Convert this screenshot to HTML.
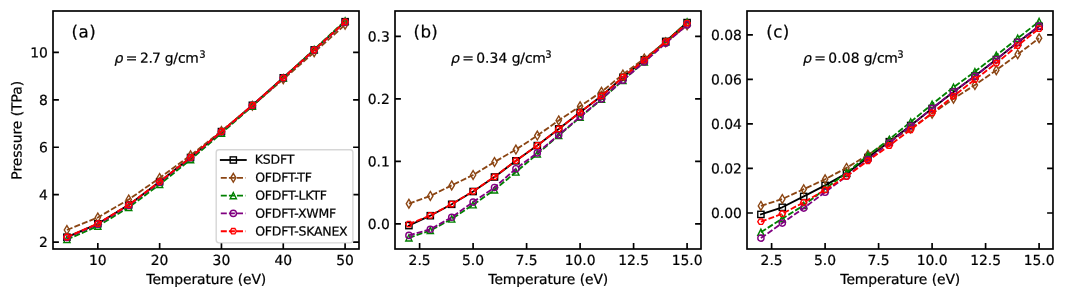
<!DOCTYPE html>
<html lang="en"><head><meta charset="utf-8"><title>Pressure vs temperature</title>
<style>
html,body{margin:0;padding:0;background:#fff;}
svg{display:block;will-change:transform;}
text{font-family:"DejaVu Sans","Liberation Sans",sans-serif;fill:#000;stroke:#000;stroke-width:0.22px;text-rendering:geometricPrecision;}
.t{font-size:13.889px}
.lab{font-size:16.667px}
.leg{font-size:12.500px}
.it{font-style:oblique}
</style></head><body>
<svg width="1065" height="298" viewBox="0 0 1065 298">
<rect width="1065" height="298" fill="#fff"/>
<g id="panel-a">
<clipPath id="cp0"><rect x="53" y="11" width="306" height="238"/></clipPath>
<g clip-path="url(#cp0)">
<polyline points="66.91,237.2 97.82,223.8 128.73,204.9 159.64,181.8 190.55,157.5 221.45,131.6 252.36,105.3 283.27,77.8 314.18,49.9 345.09,21.7" fill="none" stroke="#000000" stroke-width="1.85" stroke-linejoin="round" stroke-linecap="square"/>
<rect x="63.78" y="234.07" width="6.25" height="6.25" fill="none" stroke="#000000" stroke-width="1.39" stroke-linejoin="miter"/>
<rect x="94.69" y="220.68" width="6.25" height="6.25" fill="none" stroke="#000000" stroke-width="1.39" stroke-linejoin="miter"/>
<rect x="125.6" y="201.78" width="6.25" height="6.25" fill="none" stroke="#000000" stroke-width="1.39" stroke-linejoin="miter"/>
<rect x="156.51" y="178.68" width="6.25" height="6.25" fill="none" stroke="#000000" stroke-width="1.39" stroke-linejoin="miter"/>
<rect x="187.42" y="154.38" width="6.25" height="6.25" fill="none" stroke="#000000" stroke-width="1.39" stroke-linejoin="miter"/>
<rect x="218.33" y="128.47" width="6.25" height="6.25" fill="none" stroke="#000000" stroke-width="1.39" stroke-linejoin="miter"/>
<rect x="249.24" y="102.17" width="6.25" height="6.25" fill="none" stroke="#000000" stroke-width="1.39" stroke-linejoin="miter"/>
<rect x="280.15" y="74.67" width="6.25" height="6.25" fill="none" stroke="#000000" stroke-width="1.39" stroke-linejoin="miter"/>
<rect x="311.06" y="46.77" width="6.25" height="6.25" fill="none" stroke="#000000" stroke-width="1.39" stroke-linejoin="miter"/>
<rect x="341.97" y="18.57" width="6.25" height="6.25" fill="none" stroke="#000000" stroke-width="1.39" stroke-linejoin="miter"/>
<polyline points="66.91,230 97.82,217.5 128.73,199.5 159.64,178 190.55,155.3 221.45,131 252.36,105.7 283.27,79.3 314.18,52.3 345.09,24.8" fill="none" stroke="#8B4513" stroke-width="1.85" stroke-linejoin="round" stroke-linecap="butt" stroke-dasharray="6.0 2.1"/>
<path d="M66.91 225.58L69.56 230L66.91 234.42L64.26 230Z" fill="none" stroke="#8B4513" stroke-width="1.39" stroke-linejoin="miter"/>
<path d="M97.82 213.08L100.47 217.5L97.82 221.92L95.17 217.5Z" fill="none" stroke="#8B4513" stroke-width="1.39" stroke-linejoin="miter"/>
<path d="M128.73 195.08L131.38 199.5L128.73 203.92L126.08 199.5Z" fill="none" stroke="#8B4513" stroke-width="1.39" stroke-linejoin="miter"/>
<path d="M159.64 173.58L162.29 178L159.64 182.42L156.98 178Z" fill="none" stroke="#8B4513" stroke-width="1.39" stroke-linejoin="miter"/>
<path d="M190.55 150.88L193.2 155.3L190.55 159.72L187.89 155.3Z" fill="none" stroke="#8B4513" stroke-width="1.39" stroke-linejoin="miter"/>
<path d="M221.45 126.58L224.11 131L221.45 135.42L218.8 131Z" fill="none" stroke="#8B4513" stroke-width="1.39" stroke-linejoin="miter"/>
<path d="M252.36 101.28L255.02 105.7L252.36 110.12L249.71 105.7Z" fill="none" stroke="#8B4513" stroke-width="1.39" stroke-linejoin="miter"/>
<path d="M283.27 74.88L285.92 79.3L283.27 83.72L280.62 79.3Z" fill="none" stroke="#8B4513" stroke-width="1.39" stroke-linejoin="miter"/>
<path d="M314.18 47.88L316.83 52.3L314.18 56.72L311.53 52.3Z" fill="none" stroke="#8B4513" stroke-width="1.39" stroke-linejoin="miter"/>
<path d="M345.09 20.38L347.74 24.8L345.09 29.22L342.44 24.8Z" fill="none" stroke="#8B4513" stroke-width="1.39" stroke-linejoin="miter"/>
<polyline points="66.91,239.5 97.82,226.1 128.73,207.4 159.64,184.4 190.55,159.6 221.45,133.2 252.36,106.2 283.27,78 314.18,49.4 345.09,20.8" fill="none" stroke="#008000" stroke-width="1.85" stroke-linejoin="round" stroke-linecap="butt" stroke-dasharray="6.0 2.1"/>
<path d="M66.91 236.38L70.03 242.62L63.78 242.62Z" fill="none" stroke="#008000" stroke-width="1.39" stroke-linejoin="miter"/>
<path d="M97.82 222.97L100.94 229.22L94.69 229.22Z" fill="none" stroke="#008000" stroke-width="1.39" stroke-linejoin="miter"/>
<path d="M128.73 204.28L131.85 210.53L125.6 210.53Z" fill="none" stroke="#008000" stroke-width="1.39" stroke-linejoin="miter"/>
<path d="M159.64 181.28L162.76 187.53L156.51 187.53Z" fill="none" stroke="#008000" stroke-width="1.39" stroke-linejoin="miter"/>
<path d="M190.55 156.47L193.67 162.72L187.42 162.72Z" fill="none" stroke="#008000" stroke-width="1.39" stroke-linejoin="miter"/>
<path d="M221.45 130.07L224.58 136.32L218.33 136.32Z" fill="none" stroke="#008000" stroke-width="1.39" stroke-linejoin="miter"/>
<path d="M252.36 103.08L255.49 109.33L249.24 109.33Z" fill="none" stroke="#008000" stroke-width="1.39" stroke-linejoin="miter"/>
<path d="M283.27 74.88L286.4 81.12L280.15 81.12Z" fill="none" stroke="#008000" stroke-width="1.39" stroke-linejoin="miter"/>
<path d="M314.18 46.27L317.31 52.52L311.06 52.52Z" fill="none" stroke="#008000" stroke-width="1.39" stroke-linejoin="miter"/>
<path d="M345.09 17.68L348.22 23.93L341.97 23.93Z" fill="none" stroke="#008000" stroke-width="1.39" stroke-linejoin="miter"/>
<polyline points="66.91,237.6 97.82,224.3 128.73,205.4 159.64,182.2 190.55,157.8 221.45,131.8 252.36,105.5 283.27,78 314.18,50.2 345.09,22.2" fill="none" stroke="#800080" stroke-width="1.85" stroke-linejoin="round" stroke-linecap="butt" stroke-dasharray="6.0 2.1"/>
<circle cx="66.91" cy="237.6" r="3.12" fill="none" stroke="#800080" stroke-width="1.39" stroke-linejoin="miter"/>
<circle cx="97.82" cy="224.3" r="3.12" fill="none" stroke="#800080" stroke-width="1.39" stroke-linejoin="miter"/>
<circle cx="128.73" cy="205.4" r="3.12" fill="none" stroke="#800080" stroke-width="1.39" stroke-linejoin="miter"/>
<circle cx="159.64" cy="182.2" r="3.12" fill="none" stroke="#800080" stroke-width="1.39" stroke-linejoin="miter"/>
<circle cx="190.55" cy="157.8" r="3.12" fill="none" stroke="#800080" stroke-width="1.39" stroke-linejoin="miter"/>
<circle cx="221.45" cy="131.8" r="3.12" fill="none" stroke="#800080" stroke-width="1.39" stroke-linejoin="miter"/>
<circle cx="252.36" cy="105.5" r="3.12" fill="none" stroke="#800080" stroke-width="1.39" stroke-linejoin="miter"/>
<circle cx="283.27" cy="78" r="3.12" fill="none" stroke="#800080" stroke-width="1.39" stroke-linejoin="miter"/>
<circle cx="314.18" cy="50.2" r="3.12" fill="none" stroke="#800080" stroke-width="1.39" stroke-linejoin="miter"/>
<circle cx="345.09" cy="22.2" r="3.12" fill="none" stroke="#800080" stroke-width="1.39" stroke-linejoin="miter"/>
<polyline points="66.91,237 97.82,223.6 128.73,204.8 159.64,181.7 190.55,157.4 221.45,131.5 252.36,105.3 283.27,77.85 314.18,50 345.09,21.9" fill="none" stroke="#ff0000" stroke-width="1.85" stroke-linejoin="round" stroke-linecap="butt" stroke-dasharray="6.0 2.1"/>
<path d="M70.03 237L68.47 234.29L65.35 234.29L63.78 237L65.35 239.71L68.47 239.71Z" fill="none" stroke="#ff0000" stroke-width="1.39" stroke-linejoin="miter"/>
<path d="M100.94 223.6L99.38 220.89L96.26 220.89L94.69 223.6L96.26 226.31L99.38 226.31Z" fill="none" stroke="#ff0000" stroke-width="1.39" stroke-linejoin="miter"/>
<path d="M131.85 204.8L130.29 202.09L127.16 202.09L125.6 204.8L127.16 207.51L130.29 207.51Z" fill="none" stroke="#ff0000" stroke-width="1.39" stroke-linejoin="miter"/>
<path d="M162.76 181.7L161.2 178.99L158.07 178.99L156.51 181.7L158.07 184.41L161.2 184.41Z" fill="none" stroke="#ff0000" stroke-width="1.39" stroke-linejoin="miter"/>
<path d="M193.67 157.4L192.11 154.69L188.98 154.69L187.42 157.4L188.98 160.11L192.11 160.11Z" fill="none" stroke="#ff0000" stroke-width="1.39" stroke-linejoin="miter"/>
<path d="M224.58 131.5L223.02 128.79L219.89 128.79L218.33 131.5L219.89 134.21L223.02 134.21Z" fill="none" stroke="#ff0000" stroke-width="1.39" stroke-linejoin="miter"/>
<path d="M255.49 105.3L253.93 102.59L250.8 102.59L249.24 105.3L250.8 108.01L253.93 108.01Z" fill="none" stroke="#ff0000" stroke-width="1.39" stroke-linejoin="miter"/>
<path d="M286.4 77.85L284.84 75.14L281.71 75.14L280.15 77.85L281.71 80.56L284.84 80.56Z" fill="none" stroke="#ff0000" stroke-width="1.39" stroke-linejoin="miter"/>
<path d="M317.31 50L315.74 47.29L312.62 47.29L311.06 50L312.62 52.71L315.74 52.71Z" fill="none" stroke="#ff0000" stroke-width="1.39" stroke-linejoin="miter"/>
<path d="M348.22 21.9L346.65 19.19L343.53 19.19L341.97 21.9L343.53 24.61L346.65 24.61Z" fill="none" stroke="#ff0000" stroke-width="1.39" stroke-linejoin="miter"/>
</g>
<path d="M97.82 249V243.1M159.64 249V243.1M221.45 249V243.1M283.27 249V243.1M345.09 249V243.1M53 242.05H58.9M359 242.05H353.1M53 194.65H58.9M359 194.65H353.1M53 147.25H58.9M359 147.25H353.1M53 99.85H58.9M359 99.85H353.1M53 52.45H58.9M359 52.45H353.1" stroke="#000" stroke-width="1.67" fill="none"/>
<rect x="53" y="11" width="306" height="238" fill="none" stroke="#000" stroke-width="1.67" stroke-linejoin="miter"/>
<text class="t" x="97.82" y="265.0" transform="rotate(0.04 97.82 265.0)" text-anchor="middle">10</text>
<text class="t" x="159.64" y="265.0" transform="rotate(0.04 159.64 265.0)" text-anchor="middle">20</text>
<text class="t" x="221.45" y="265.0" transform="rotate(0.04 221.45 265.0)" text-anchor="middle">30</text>
<text class="t" x="283.27" y="265.0" transform="rotate(0.04 283.27 265.0)" text-anchor="middle">40</text>
<text class="t" x="345.09" y="265.0" transform="rotate(0.04 345.09 265.0)" text-anchor="middle">50</text>
<text class="t" x="47.8" y="247.13" transform="rotate(0.04 47.8 247.13)" text-anchor="end">2</text>
<text class="t" x="47.8" y="199.73" transform="rotate(0.04 47.8 199.73)" text-anchor="end">4</text>
<text class="t" x="47.8" y="152.33" transform="rotate(0.04 47.8 152.33)" text-anchor="end">6</text>
<text class="t" x="47.8" y="104.93" transform="rotate(0.04 47.8 104.93)" text-anchor="end">8</text>
<text class="t" x="47.8" y="57.53" transform="rotate(0.04 47.8 57.53)" text-anchor="end">10</text>
<text x="146.37" y="284.00" transform="rotate(0.04 146.37 284.00)" font-size="13.889" letter-spacing="-0.086">Temperature (eV)</text>
<text x="71.58" y="37.60" transform="rotate(0.04 71.58 37.60)" font-size="16.667" letter-spacing="0.509">(a)</text>
<text class="t" transform="rotate(0.04 114.49 62.80)"><tspan x="114.49" y="62.80" font-size="13.889" font-style="oblique">ρ </tspan><tspan x="125.74" y="62.80" font-size="13.889">= </tspan><tspan x="140.04 148.44 151.99" y="62.80" font-size="13.889">2.7 </tspan><tspan x="164.74" y="62.80" font-size="13.889" letter-spacing="-0.169">g/cm</tspan><tspan x="199.25" y="57.65" font-size="10.000">3</tspan></text>
</g>
<g id="panel-b">
<clipPath id="cp1"><rect x="395" y="11" width="306" height="238"/></clipPath>
<g clip-path="url(#cp1)">
<polyline points="408.91,225.6 430.31,215.7 451.71,204.3 473.1,191.5 494.5,177 515.9,160.8 537.3,145.6 558.7,128.9 580.1,112.3 601.5,96 622.9,77.3 644.29,59.8 665.69,41.4 687.09,22.6" fill="none" stroke="#000000" stroke-width="1.85" stroke-linejoin="round" stroke-linecap="square"/>
<rect x="405.78" y="222.47" width="6.25" height="6.25" fill="none" stroke="#000000" stroke-width="1.39" stroke-linejoin="miter"/>
<rect x="427.18" y="212.57" width="6.25" height="6.25" fill="none" stroke="#000000" stroke-width="1.39" stroke-linejoin="miter"/>
<rect x="448.58" y="201.18" width="6.25" height="6.25" fill="none" stroke="#000000" stroke-width="1.39" stroke-linejoin="miter"/>
<rect x="469.98" y="188.38" width="6.25" height="6.25" fill="none" stroke="#000000" stroke-width="1.39" stroke-linejoin="miter"/>
<rect x="491.38" y="173.88" width="6.25" height="6.25" fill="none" stroke="#000000" stroke-width="1.39" stroke-linejoin="miter"/>
<rect x="512.78" y="157.68" width="6.25" height="6.25" fill="none" stroke="#000000" stroke-width="1.39" stroke-linejoin="miter"/>
<rect x="534.18" y="142.47" width="6.25" height="6.25" fill="none" stroke="#000000" stroke-width="1.39" stroke-linejoin="miter"/>
<rect x="555.57" y="125.78" width="6.25" height="6.25" fill="none" stroke="#000000" stroke-width="1.39" stroke-linejoin="miter"/>
<rect x="576.97" y="109.17" width="6.25" height="6.25" fill="none" stroke="#000000" stroke-width="1.39" stroke-linejoin="miter"/>
<rect x="598.37" y="92.88" width="6.25" height="6.25" fill="none" stroke="#000000" stroke-width="1.39" stroke-linejoin="miter"/>
<rect x="619.77" y="74.17" width="6.25" height="6.25" fill="none" stroke="#000000" stroke-width="1.39" stroke-linejoin="miter"/>
<rect x="641.17" y="56.67" width="6.25" height="6.25" fill="none" stroke="#000000" stroke-width="1.39" stroke-linejoin="miter"/>
<rect x="662.57" y="38.27" width="6.25" height="6.25" fill="none" stroke="#000000" stroke-width="1.39" stroke-linejoin="miter"/>
<rect x="683.97" y="19.48" width="6.25" height="6.25" fill="none" stroke="#000000" stroke-width="1.39" stroke-linejoin="miter"/>
<polyline points="408.91,203.7 430.31,195.9 451.71,185.4 473.1,175 494.5,162 515.9,149.6 537.3,135.6 558.7,120.4 580.1,106.2 601.5,91.8 622.9,74.5 644.29,58.5 665.69,42.3 687.09,25.3" fill="none" stroke="#8B4513" stroke-width="1.85" stroke-linejoin="round" stroke-linecap="butt" stroke-dasharray="6.0 2.1"/>
<path d="M408.91 199.28L411.56 203.7L408.91 208.12L406.26 203.7Z" fill="none" stroke="#8B4513" stroke-width="1.39" stroke-linejoin="miter"/>
<path d="M430.31 191.48L432.96 195.9L430.31 200.32L427.66 195.9Z" fill="none" stroke="#8B4513" stroke-width="1.39" stroke-linejoin="miter"/>
<path d="M451.71 180.98L454.36 185.4L451.71 189.82L449.05 185.4Z" fill="none" stroke="#8B4513" stroke-width="1.39" stroke-linejoin="miter"/>
<path d="M473.1 170.58L475.76 175L473.1 179.42L470.45 175Z" fill="none" stroke="#8B4513" stroke-width="1.39" stroke-linejoin="miter"/>
<path d="M494.5 157.58L497.16 162L494.5 166.42L491.85 162Z" fill="none" stroke="#8B4513" stroke-width="1.39" stroke-linejoin="miter"/>
<path d="M515.9 145.18L518.55 149.6L515.9 154.02L513.25 149.6Z" fill="none" stroke="#8B4513" stroke-width="1.39" stroke-linejoin="miter"/>
<path d="M537.3 131.18L539.95 135.6L537.3 140.02L534.65 135.6Z" fill="none" stroke="#8B4513" stroke-width="1.39" stroke-linejoin="miter"/>
<path d="M558.7 115.98L561.35 120.4L558.7 124.82L556.05 120.4Z" fill="none" stroke="#8B4513" stroke-width="1.39" stroke-linejoin="miter"/>
<path d="M580.1 101.78L582.75 106.2L580.1 110.62L577.45 106.2Z" fill="none" stroke="#8B4513" stroke-width="1.39" stroke-linejoin="miter"/>
<path d="M601.5 87.38L604.15 91.8L601.5 96.22L598.84 91.8Z" fill="none" stroke="#8B4513" stroke-width="1.39" stroke-linejoin="miter"/>
<path d="M622.9 70.08L625.55 74.5L622.9 78.92L620.24 74.5Z" fill="none" stroke="#8B4513" stroke-width="1.39" stroke-linejoin="miter"/>
<path d="M644.29 54.08L646.95 58.5L644.29 62.92L641.64 58.5Z" fill="none" stroke="#8B4513" stroke-width="1.39" stroke-linejoin="miter"/>
<path d="M665.69 37.88L668.34 42.3L665.69 46.72L663.04 42.3Z" fill="none" stroke="#8B4513" stroke-width="1.39" stroke-linejoin="miter"/>
<path d="M687.09 20.88L689.74 25.3L687.09 29.72L684.44 25.3Z" fill="none" stroke="#8B4513" stroke-width="1.39" stroke-linejoin="miter"/>
<polyline points="408.91,237.8 430.31,230.5 451.71,219 473.1,204.7 494.5,189.9 515.9,172 537.3,154 558.7,135.5 580.1,117.3 601.5,99.3 622.9,80.4 644.29,61.9 665.69,42 687.09,22" fill="none" stroke="#008000" stroke-width="1.85" stroke-linejoin="round" stroke-linecap="butt" stroke-dasharray="6.0 2.1"/>
<path d="M408.91 234.68L412.03 240.93L405.78 240.93Z" fill="none" stroke="#008000" stroke-width="1.39" stroke-linejoin="miter"/>
<path d="M430.31 227.38L433.43 233.62L427.18 233.62Z" fill="none" stroke="#008000" stroke-width="1.39" stroke-linejoin="miter"/>
<path d="M451.71 215.88L454.83 222.12L448.58 222.12Z" fill="none" stroke="#008000" stroke-width="1.39" stroke-linejoin="miter"/>
<path d="M473.1 201.57L476.23 207.82L469.98 207.82Z" fill="none" stroke="#008000" stroke-width="1.39" stroke-linejoin="miter"/>
<path d="M494.5 186.78L497.63 193.03L491.38 193.03Z" fill="none" stroke="#008000" stroke-width="1.39" stroke-linejoin="miter"/>
<path d="M515.9 168.88L519.03 175.12L512.78 175.12Z" fill="none" stroke="#008000" stroke-width="1.39" stroke-linejoin="miter"/>
<path d="M537.3 150.88L540.43 157.12L534.18 157.12Z" fill="none" stroke="#008000" stroke-width="1.39" stroke-linejoin="miter"/>
<path d="M558.7 132.38L561.82 138.62L555.57 138.62Z" fill="none" stroke="#008000" stroke-width="1.39" stroke-linejoin="miter"/>
<path d="M580.1 114.17L583.22 120.42L576.97 120.42Z" fill="none" stroke="#008000" stroke-width="1.39" stroke-linejoin="miter"/>
<path d="M601.5 96.17L604.62 102.42L598.37 102.42Z" fill="none" stroke="#008000" stroke-width="1.39" stroke-linejoin="miter"/>
<path d="M622.9 77.28L626.02 83.53L619.77 83.53Z" fill="none" stroke="#008000" stroke-width="1.39" stroke-linejoin="miter"/>
<path d="M644.29 58.77L647.42 65.03L641.17 65.03Z" fill="none" stroke="#008000" stroke-width="1.39" stroke-linejoin="miter"/>
<path d="M665.69 38.88L668.82 45.12L662.57 45.12Z" fill="none" stroke="#008000" stroke-width="1.39" stroke-linejoin="miter"/>
<path d="M687.09 18.88L690.22 25.12L683.97 25.12Z" fill="none" stroke="#008000" stroke-width="1.39" stroke-linejoin="miter"/>
<polyline points="408.91,235.4 430.31,229.3 451.71,217.3 473.1,202.1 494.5,187.5 515.9,168.7 537.3,152.9 558.7,134.9 580.1,116.8 601.5,98.9 622.9,80.2 644.29,62 665.69,43.3 687.09,24.9" fill="none" stroke="#800080" stroke-width="1.85" stroke-linejoin="round" stroke-linecap="butt" stroke-dasharray="6.0 2.1"/>
<circle cx="408.91" cy="235.4" r="3.12" fill="none" stroke="#800080" stroke-width="1.39" stroke-linejoin="miter"/>
<circle cx="430.31" cy="229.3" r="3.12" fill="none" stroke="#800080" stroke-width="1.39" stroke-linejoin="miter"/>
<circle cx="451.71" cy="217.3" r="3.12" fill="none" stroke="#800080" stroke-width="1.39" stroke-linejoin="miter"/>
<circle cx="473.1" cy="202.1" r="3.12" fill="none" stroke="#800080" stroke-width="1.39" stroke-linejoin="miter"/>
<circle cx="494.5" cy="187.5" r="3.12" fill="none" stroke="#800080" stroke-width="1.39" stroke-linejoin="miter"/>
<circle cx="515.9" cy="168.7" r="3.12" fill="none" stroke="#800080" stroke-width="1.39" stroke-linejoin="miter"/>
<circle cx="537.3" cy="152.9" r="3.12" fill="none" stroke="#800080" stroke-width="1.39" stroke-linejoin="miter"/>
<circle cx="558.7" cy="134.9" r="3.12" fill="none" stroke="#800080" stroke-width="1.39" stroke-linejoin="miter"/>
<circle cx="580.1" cy="116.8" r="3.12" fill="none" stroke="#800080" stroke-width="1.39" stroke-linejoin="miter"/>
<circle cx="601.5" cy="98.9" r="3.12" fill="none" stroke="#800080" stroke-width="1.39" stroke-linejoin="miter"/>
<circle cx="622.9" cy="80.2" r="3.12" fill="none" stroke="#800080" stroke-width="1.39" stroke-linejoin="miter"/>
<circle cx="644.29" cy="62" r="3.12" fill="none" stroke="#800080" stroke-width="1.39" stroke-linejoin="miter"/>
<circle cx="665.69" cy="43.3" r="3.12" fill="none" stroke="#800080" stroke-width="1.39" stroke-linejoin="miter"/>
<circle cx="687.09" cy="24.9" r="3.12" fill="none" stroke="#800080" stroke-width="1.39" stroke-linejoin="miter"/>
<polyline points="408.91,224.1 430.31,215.4 451.71,204.1 473.1,191.3 494.5,176.8 515.9,160.7 537.3,145.5 558.7,128.9 580.1,112.3 601.5,95.9 622.9,77.2 644.29,60.2 665.69,41.6 687.09,23.1" fill="none" stroke="#ff0000" stroke-width="1.85" stroke-linejoin="round" stroke-linecap="butt" stroke-dasharray="6.0 2.1"/>
<path d="M412.03 224.1L410.47 221.39L407.35 221.39L405.78 224.1L407.35 226.81L410.47 226.81Z" fill="none" stroke="#ff0000" stroke-width="1.39" stroke-linejoin="miter"/>
<path d="M433.43 215.4L431.87 212.69L428.75 212.69L427.18 215.4L428.75 218.11L431.87 218.11Z" fill="none" stroke="#ff0000" stroke-width="1.39" stroke-linejoin="miter"/>
<path d="M454.83 204.1L453.27 201.39L450.14 201.39L448.58 204.1L450.14 206.81L453.27 206.81Z" fill="none" stroke="#ff0000" stroke-width="1.39" stroke-linejoin="miter"/>
<path d="M476.23 191.3L474.67 188.59L471.54 188.59L469.98 191.3L471.54 194.01L474.67 194.01Z" fill="none" stroke="#ff0000" stroke-width="1.39" stroke-linejoin="miter"/>
<path d="M497.63 176.8L496.07 174.09L492.94 174.09L491.38 176.8L492.94 179.51L496.07 179.51Z" fill="none" stroke="#ff0000" stroke-width="1.39" stroke-linejoin="miter"/>
<path d="M519.03 160.7L517.46 157.99L514.34 157.99L512.78 160.7L514.34 163.41L517.46 163.41Z" fill="none" stroke="#ff0000" stroke-width="1.39" stroke-linejoin="miter"/>
<path d="M540.43 145.5L538.86 142.79L535.74 142.79L534.18 145.5L535.74 148.21L538.86 148.21Z" fill="none" stroke="#ff0000" stroke-width="1.39" stroke-linejoin="miter"/>
<path d="M561.82 128.9L560.26 126.19L557.14 126.19L555.57 128.9L557.14 131.61L560.26 131.61Z" fill="none" stroke="#ff0000" stroke-width="1.39" stroke-linejoin="miter"/>
<path d="M583.22 112.3L581.66 109.59L578.54 109.59L576.97 112.3L578.54 115.01L581.66 115.01Z" fill="none" stroke="#ff0000" stroke-width="1.39" stroke-linejoin="miter"/>
<path d="M604.62 95.9L603.06 93.19L599.93 93.19L598.37 95.9L599.93 98.61L603.06 98.61Z" fill="none" stroke="#ff0000" stroke-width="1.39" stroke-linejoin="miter"/>
<path d="M626.02 77.2L624.46 74.49L621.33 74.49L619.77 77.2L621.33 79.91L624.46 79.91Z" fill="none" stroke="#ff0000" stroke-width="1.39" stroke-linejoin="miter"/>
<path d="M647.42 60.2L645.86 57.49L642.73 57.49L641.17 60.2L642.73 62.91L645.86 62.91Z" fill="none" stroke="#ff0000" stroke-width="1.39" stroke-linejoin="miter"/>
<path d="M668.82 41.6L667.25 38.89L664.13 38.89L662.57 41.6L664.13 44.31L667.25 44.31Z" fill="none" stroke="#ff0000" stroke-width="1.39" stroke-linejoin="miter"/>
<path d="M690.22 23.1L688.65 20.39L685.53 20.39L683.97 23.1L685.53 25.81L688.65 25.81Z" fill="none" stroke="#ff0000" stroke-width="1.39" stroke-linejoin="miter"/>
</g>
<path d="M419.61 249V243.1M473.1 249V243.1M526.6 249V243.1M580.1 249V243.1M633.59 249V243.1M687.09 249V243.1M395 223.9H400.9M701 223.9H695.1M395 161.4H400.9M701 161.4H695.1M395 98.9H400.9M701 98.9H695.1M395 36.4H400.9M701 36.4H695.1" stroke="#000" stroke-width="1.67" fill="none"/>
<rect x="395" y="11" width="306" height="238" fill="none" stroke="#000" stroke-width="1.67" stroke-linejoin="miter"/>
<text class="t" x="419.61" y="265.0" transform="rotate(0.04 419.61 265.0)" text-anchor="middle">2.5</text>
<text class="t" x="473.1" y="265.0" transform="rotate(0.04 473.1 265.0)" text-anchor="middle">5.0</text>
<text class="t" x="526.6" y="265.0" transform="rotate(0.04 526.6 265.0)" text-anchor="middle">7.5</text>
<text class="t" x="580.1" y="265.0" transform="rotate(0.04 580.1 265.0)" text-anchor="middle">10.0</text>
<text class="t" x="633.59" y="265.0" transform="rotate(0.04 633.59 265.0)" text-anchor="middle">12.5</text>
<text class="t" x="687.09" y="265.0" transform="rotate(0.04 687.09 265.0)" text-anchor="middle">15.0</text>
<text class="t" x="389.8" y="228.98" transform="rotate(0.04 389.8 228.98)" text-anchor="end">0.0</text>
<text class="t" x="389.8" y="166.48" transform="rotate(0.04 389.8 166.48)" text-anchor="end">0.1</text>
<text class="t" x="389.8" y="103.98" transform="rotate(0.04 389.8 103.98)" text-anchor="end">0.2</text>
<text class="t" x="389.8" y="41.48" transform="rotate(0.04 389.8 41.48)" text-anchor="end">0.3</text>
<text x="488.37" y="284.00" transform="rotate(0.04 488.37 284.00)" font-size="13.889" letter-spacing="-0.086">Temperature (eV)</text>
<text x="413.58" y="37.60" transform="rotate(0.04 413.58 37.60)" font-size="16.667" letter-spacing="0.329">(b)</text>
<text class="t" transform="rotate(0.04 450.99 62.80)"><tspan x="450.99" y="62.80" font-size="13.889" font-style="oblique">ρ </tspan><tspan x="462.34" y="62.80" font-size="13.889">= </tspan><tspan x="476.20" y="62.80" font-size="13.889" letter-spacing="0.081">0.34 </tspan><tspan x="511.74" y="62.80" font-size="13.889" letter-spacing="-0.169">g/cm</tspan><tspan x="545.35" y="57.65" font-size="10.000">3</tspan></text>
</g>
<g id="panel-c">
<clipPath id="cp2"><rect x="747" y="11" width="306" height="238"/></clipPath>
<g clip-path="url(#cp2)">
<polyline points="760.91,214.4 782.31,207.3 803.71,196.4 825.1,185.4 846.5,173.4 867.9,157.5 889.3,141.7 910.7,125.5 932.1,108.5 953.5,91.9 974.9,76 996.29,59.5 1017.69,42.4 1039.09,26.3" fill="none" stroke="#000000" stroke-width="1.85" stroke-linejoin="round" stroke-linecap="square"/>
<rect x="757.78" y="211.28" width="6.25" height="6.25" fill="none" stroke="#000000" stroke-width="1.39" stroke-linejoin="miter"/>
<rect x="779.18" y="204.18" width="6.25" height="6.25" fill="none" stroke="#000000" stroke-width="1.39" stroke-linejoin="miter"/>
<rect x="800.58" y="193.28" width="6.25" height="6.25" fill="none" stroke="#000000" stroke-width="1.39" stroke-linejoin="miter"/>
<rect x="821.98" y="182.28" width="6.25" height="6.25" fill="none" stroke="#000000" stroke-width="1.39" stroke-linejoin="miter"/>
<rect x="843.38" y="170.28" width="6.25" height="6.25" fill="none" stroke="#000000" stroke-width="1.39" stroke-linejoin="miter"/>
<rect x="864.78" y="154.38" width="6.25" height="6.25" fill="none" stroke="#000000" stroke-width="1.39" stroke-linejoin="miter"/>
<rect x="886.18" y="138.57" width="6.25" height="6.25" fill="none" stroke="#000000" stroke-width="1.39" stroke-linejoin="miter"/>
<rect x="907.57" y="122.38" width="6.25" height="6.25" fill="none" stroke="#000000" stroke-width="1.39" stroke-linejoin="miter"/>
<rect x="928.97" y="105.38" width="6.25" height="6.25" fill="none" stroke="#000000" stroke-width="1.39" stroke-linejoin="miter"/>
<rect x="950.37" y="88.78" width="6.25" height="6.25" fill="none" stroke="#000000" stroke-width="1.39" stroke-linejoin="miter"/>
<rect x="971.77" y="72.88" width="6.25" height="6.25" fill="none" stroke="#000000" stroke-width="1.39" stroke-linejoin="miter"/>
<rect x="993.17" y="56.38" width="6.25" height="6.25" fill="none" stroke="#000000" stroke-width="1.39" stroke-linejoin="miter"/>
<rect x="1014.57" y="39.27" width="6.25" height="6.25" fill="none" stroke="#000000" stroke-width="1.39" stroke-linejoin="miter"/>
<rect x="1035.97" y="23.18" width="6.25" height="6.25" fill="none" stroke="#000000" stroke-width="1.39" stroke-linejoin="miter"/>
<polyline points="760.91,205.9 782.31,199 803.71,189.2 825.1,179.3 846.5,167.9 867.9,154.8 889.3,141.4 910.7,128.5 932.1,113.8 953.5,98.7 974.9,85 996.29,70.2 1017.69,54.3 1039.09,38.2" fill="none" stroke="#8B4513" stroke-width="1.85" stroke-linejoin="round" stroke-linecap="butt" stroke-dasharray="6.0 2.1"/>
<path d="M760.91 201.48L763.56 205.9L760.91 210.32L758.26 205.9Z" fill="none" stroke="#8B4513" stroke-width="1.39" stroke-linejoin="miter"/>
<path d="M782.31 194.58L784.96 199L782.31 203.42L779.66 199Z" fill="none" stroke="#8B4513" stroke-width="1.39" stroke-linejoin="miter"/>
<path d="M803.71 184.78L806.36 189.2L803.71 193.62L801.05 189.2Z" fill="none" stroke="#8B4513" stroke-width="1.39" stroke-linejoin="miter"/>
<path d="M825.1 174.88L827.76 179.3L825.1 183.72L822.45 179.3Z" fill="none" stroke="#8B4513" stroke-width="1.39" stroke-linejoin="miter"/>
<path d="M846.5 163.48L849.16 167.9L846.5 172.32L843.85 167.9Z" fill="none" stroke="#8B4513" stroke-width="1.39" stroke-linejoin="miter"/>
<path d="M867.9 150.38L870.55 154.8L867.9 159.22L865.25 154.8Z" fill="none" stroke="#8B4513" stroke-width="1.39" stroke-linejoin="miter"/>
<path d="M889.3 136.98L891.95 141.4L889.3 145.82L886.65 141.4Z" fill="none" stroke="#8B4513" stroke-width="1.39" stroke-linejoin="miter"/>
<path d="M910.7 124.08L913.35 128.5L910.7 132.92L908.05 128.5Z" fill="none" stroke="#8B4513" stroke-width="1.39" stroke-linejoin="miter"/>
<path d="M932.1 109.38L934.75 113.8L932.1 118.22L929.45 113.8Z" fill="none" stroke="#8B4513" stroke-width="1.39" stroke-linejoin="miter"/>
<path d="M953.5 94.28L956.15 98.7L953.5 103.12L950.84 98.7Z" fill="none" stroke="#8B4513" stroke-width="1.39" stroke-linejoin="miter"/>
<path d="M974.9 80.58L977.55 85L974.9 89.42L972.24 85Z" fill="none" stroke="#8B4513" stroke-width="1.39" stroke-linejoin="miter"/>
<path d="M996.29 65.78L998.95 70.2L996.29 74.62L993.64 70.2Z" fill="none" stroke="#8B4513" stroke-width="1.39" stroke-linejoin="miter"/>
<path d="M1017.69 49.88L1020.34 54.3L1017.69 58.72L1015.04 54.3Z" fill="none" stroke="#8B4513" stroke-width="1.39" stroke-linejoin="miter"/>
<path d="M1039.09 33.78L1041.74 38.2L1039.09 42.62L1036.44 38.2Z" fill="none" stroke="#8B4513" stroke-width="1.39" stroke-linejoin="miter"/>
<polyline points="760.91,232.2 782.31,218.6 803.71,205.3 825.1,189 846.5,172.8 867.9,155.5 889.3,139.3 910.7,121.9 932.1,104.2 953.5,87.3 974.9,71.6 996.29,55.3 1017.69,38.3 1039.09,21.5" fill="none" stroke="#008000" stroke-width="1.85" stroke-linejoin="round" stroke-linecap="butt" stroke-dasharray="6.0 2.1"/>
<path d="M760.91 229.07L764.03 235.32L757.78 235.32Z" fill="none" stroke="#008000" stroke-width="1.39" stroke-linejoin="miter"/>
<path d="M782.31 215.47L785.43 221.72L779.18 221.72Z" fill="none" stroke="#008000" stroke-width="1.39" stroke-linejoin="miter"/>
<path d="M803.71 202.18L806.83 208.43L800.58 208.43Z" fill="none" stroke="#008000" stroke-width="1.39" stroke-linejoin="miter"/>
<path d="M825.1 185.88L828.23 192.12L821.98 192.12Z" fill="none" stroke="#008000" stroke-width="1.39" stroke-linejoin="miter"/>
<path d="M846.5 169.68L849.63 175.93L843.38 175.93Z" fill="none" stroke="#008000" stroke-width="1.39" stroke-linejoin="miter"/>
<path d="M867.9 152.38L871.03 158.62L864.78 158.62Z" fill="none" stroke="#008000" stroke-width="1.39" stroke-linejoin="miter"/>
<path d="M889.3 136.18L892.43 142.43L886.18 142.43Z" fill="none" stroke="#008000" stroke-width="1.39" stroke-linejoin="miter"/>
<path d="M910.7 118.78L913.82 125.03L907.57 125.03Z" fill="none" stroke="#008000" stroke-width="1.39" stroke-linejoin="miter"/>
<path d="M932.1 101.08L935.22 107.33L928.97 107.33Z" fill="none" stroke="#008000" stroke-width="1.39" stroke-linejoin="miter"/>
<path d="M953.5 84.17L956.62 90.42L950.37 90.42Z" fill="none" stroke="#008000" stroke-width="1.39" stroke-linejoin="miter"/>
<path d="M974.9 68.47L978.02 74.72L971.77 74.72Z" fill="none" stroke="#008000" stroke-width="1.39" stroke-linejoin="miter"/>
<path d="M996.29 52.17L999.42 58.42L993.17 58.42Z" fill="none" stroke="#008000" stroke-width="1.39" stroke-linejoin="miter"/>
<path d="M1017.69 35.17L1020.82 41.42L1014.57 41.42Z" fill="none" stroke="#008000" stroke-width="1.39" stroke-linejoin="miter"/>
<path d="M1039.09 18.38L1042.22 24.62L1035.97 24.62Z" fill="none" stroke="#008000" stroke-width="1.39" stroke-linejoin="miter"/>
<polyline points="760.91,238.1 782.31,223.1 803.71,208.1 825.1,192.2 846.5,176.2 867.9,159.6 889.3,143 910.7,126 932.1,108.3 953.5,91.7 974.9,76.2 996.29,59.5 1017.69,42.2 1039.09,26.1" fill="none" stroke="#800080" stroke-width="1.85" stroke-linejoin="round" stroke-linecap="butt" stroke-dasharray="6.0 2.1"/>
<circle cx="760.91" cy="238.1" r="3.12" fill="none" stroke="#800080" stroke-width="1.39" stroke-linejoin="miter"/>
<circle cx="782.31" cy="223.1" r="3.12" fill="none" stroke="#800080" stroke-width="1.39" stroke-linejoin="miter"/>
<circle cx="803.71" cy="208.1" r="3.12" fill="none" stroke="#800080" stroke-width="1.39" stroke-linejoin="miter"/>
<circle cx="825.1" cy="192.2" r="3.12" fill="none" stroke="#800080" stroke-width="1.39" stroke-linejoin="miter"/>
<circle cx="846.5" cy="176.2" r="3.12" fill="none" stroke="#800080" stroke-width="1.39" stroke-linejoin="miter"/>
<circle cx="867.9" cy="159.6" r="3.12" fill="none" stroke="#800080" stroke-width="1.39" stroke-linejoin="miter"/>
<circle cx="889.3" cy="143" r="3.12" fill="none" stroke="#800080" stroke-width="1.39" stroke-linejoin="miter"/>
<circle cx="910.7" cy="126" r="3.12" fill="none" stroke="#800080" stroke-width="1.39" stroke-linejoin="miter"/>
<circle cx="932.1" cy="108.3" r="3.12" fill="none" stroke="#800080" stroke-width="1.39" stroke-linejoin="miter"/>
<circle cx="953.5" cy="91.7" r="3.12" fill="none" stroke="#800080" stroke-width="1.39" stroke-linejoin="miter"/>
<circle cx="974.9" cy="76.2" r="3.12" fill="none" stroke="#800080" stroke-width="1.39" stroke-linejoin="miter"/>
<circle cx="996.29" cy="59.5" r="3.12" fill="none" stroke="#800080" stroke-width="1.39" stroke-linejoin="miter"/>
<circle cx="1017.69" cy="42.2" r="3.12" fill="none" stroke="#800080" stroke-width="1.39" stroke-linejoin="miter"/>
<circle cx="1039.09" cy="26.1" r="3.12" fill="none" stroke="#800080" stroke-width="1.39" stroke-linejoin="miter"/>
<polyline points="760.91,221.7 782.31,213.7 803.71,202.4 825.1,189.9 846.5,176.4 867.9,160.9 889.3,145.5 910.7,129.8 932.1,112.9 953.5,96.2 974.9,79.6 996.29,63.2 1017.69,45.6 1039.09,28.7" fill="none" stroke="#ff0000" stroke-width="1.85" stroke-linejoin="round" stroke-linecap="butt" stroke-dasharray="6.0 2.1"/>
<path d="M764.03 221.7L762.47 218.99L759.35 218.99L757.78 221.7L759.35 224.41L762.47 224.41Z" fill="none" stroke="#ff0000" stroke-width="1.39" stroke-linejoin="miter"/>
<path d="M785.43 213.7L783.87 210.99L780.75 210.99L779.18 213.7L780.75 216.41L783.87 216.41Z" fill="none" stroke="#ff0000" stroke-width="1.39" stroke-linejoin="miter"/>
<path d="M806.83 202.4L805.27 199.69L802.14 199.69L800.58 202.4L802.14 205.11L805.27 205.11Z" fill="none" stroke="#ff0000" stroke-width="1.39" stroke-linejoin="miter"/>
<path d="M828.23 189.9L826.67 187.19L823.54 187.19L821.98 189.9L823.54 192.61L826.67 192.61Z" fill="none" stroke="#ff0000" stroke-width="1.39" stroke-linejoin="miter"/>
<path d="M849.63 176.4L848.07 173.69L844.94 173.69L843.38 176.4L844.94 179.11L848.07 179.11Z" fill="none" stroke="#ff0000" stroke-width="1.39" stroke-linejoin="miter"/>
<path d="M871.03 160.9L869.46 158.19L866.34 158.19L864.78 160.9L866.34 163.61L869.46 163.61Z" fill="none" stroke="#ff0000" stroke-width="1.39" stroke-linejoin="miter"/>
<path d="M892.43 145.5L890.86 142.79L887.74 142.79L886.18 145.5L887.74 148.21L890.86 148.21Z" fill="none" stroke="#ff0000" stroke-width="1.39" stroke-linejoin="miter"/>
<path d="M913.82 129.8L912.26 127.09L909.14 127.09L907.57 129.8L909.14 132.51L912.26 132.51Z" fill="none" stroke="#ff0000" stroke-width="1.39" stroke-linejoin="miter"/>
<path d="M935.22 112.9L933.66 110.19L930.54 110.19L928.97 112.9L930.54 115.61L933.66 115.61Z" fill="none" stroke="#ff0000" stroke-width="1.39" stroke-linejoin="miter"/>
<path d="M956.62 96.2L955.06 93.49L951.93 93.49L950.37 96.2L951.93 98.91L955.06 98.91Z" fill="none" stroke="#ff0000" stroke-width="1.39" stroke-linejoin="miter"/>
<path d="M978.02 79.6L976.46 76.89L973.33 76.89L971.77 79.6L973.33 82.31L976.46 82.31Z" fill="none" stroke="#ff0000" stroke-width="1.39" stroke-linejoin="miter"/>
<path d="M999.42 63.2L997.86 60.49L994.73 60.49L993.17 63.2L994.73 65.91L997.86 65.91Z" fill="none" stroke="#ff0000" stroke-width="1.39" stroke-linejoin="miter"/>
<path d="M1020.82 45.6L1019.25 42.89L1016.13 42.89L1014.57 45.6L1016.13 48.31L1019.25 48.31Z" fill="none" stroke="#ff0000" stroke-width="1.39" stroke-linejoin="miter"/>
<path d="M1042.22 28.7L1040.65 25.99L1037.53 25.99L1035.97 28.7L1037.53 31.41L1040.65 31.41Z" fill="none" stroke="#ff0000" stroke-width="1.39" stroke-linejoin="miter"/>
</g>
<path d="M771.61 249V243.1M825.1 249V243.1M878.6 249V243.1M932.1 249V243.1M985.59 249V243.1M1039.09 249V243.1M747 213H752.9M1053 213H1047.1M747 168.45H752.9M1053 168.45H1047.1M747 123.9H752.9M1053 123.9H1047.1M747 79.4H752.9M1053 79.4H1047.1M747 34.85H752.9M1053 34.85H1047.1" stroke="#000" stroke-width="1.67" fill="none"/>
<rect x="747" y="11" width="306" height="238" fill="none" stroke="#000" stroke-width="1.67" stroke-linejoin="miter"/>
<text class="t" x="771.61" y="265.0" transform="rotate(0.04 771.61 265.0)" text-anchor="middle">2.5</text>
<text class="t" x="825.1" y="265.0" transform="rotate(0.04 825.1 265.0)" text-anchor="middle">5.0</text>
<text class="t" x="878.6" y="265.0" transform="rotate(0.04 878.6 265.0)" text-anchor="middle">7.5</text>
<text class="t" x="932.1" y="265.0" transform="rotate(0.04 932.1 265.0)" text-anchor="middle">10.0</text>
<text class="t" x="985.59" y="265.0" transform="rotate(0.04 985.59 265.0)" text-anchor="middle">12.5</text>
<text class="t" x="1039.09" y="265.0" transform="rotate(0.04 1039.09 265.0)" text-anchor="middle">15.0</text>
<text class="t" x="741.8" y="218.08" transform="rotate(0.04 741.8 218.08)" text-anchor="end">0.00</text>
<text class="t" x="741.8" y="173.53" transform="rotate(0.04 741.8 173.53)" text-anchor="end">0.02</text>
<text class="t" x="741.8" y="128.98" transform="rotate(0.04 741.8 128.98)" text-anchor="end">0.04</text>
<text class="t" x="741.8" y="84.48" transform="rotate(0.04 741.8 84.48)" text-anchor="end">0.06</text>
<text class="t" x="741.8" y="39.93" transform="rotate(0.04 741.8 39.93)" text-anchor="end">0.08</text>
<text x="840.37" y="284.00" transform="rotate(0.04 840.37 284.00)" font-size="13.889" letter-spacing="-0.086">Temperature (eV)</text>
<text x="766.28" y="37.60" transform="rotate(0.04 766.28 37.60)" font-size="16.667" letter-spacing="0.465">(c)</text>
<text class="t" transform="rotate(0.04 802.99 62.80)"><tspan x="802.99" y="62.80" font-size="13.889" font-style="oblique">ρ </tspan><tspan x="814.34" y="62.80" font-size="13.889">= </tspan><tspan x="828.20" y="62.80" font-size="13.889" letter-spacing="0.139">0.08 </tspan><tspan x="863.74" y="62.80" font-size="13.889" letter-spacing="-0.169">g/cm</tspan><tspan x="897.35" y="57.65" font-size="10.000">3</tspan></text>
</g>
<g transform="translate(21.4 178.35) rotate(-90)"><text x="-1.35" y="0.00" transform="rotate(0.04 -1.35 0.00)" font-size="13.889" letter-spacing="-0.029">Pressure (TPa)</text></g>
<g id="legend">
<rect x="216.2" y="149.8" width="136.7" height="93.1" rx="2.8" ry="2.8" fill="#fff" fill-opacity="0.8" stroke="#cccccc" stroke-opacity="0.8" stroke-width="1.39"/>
<path d="M220.8 160H245.8" stroke="#000000" stroke-width="1.85" stroke-linecap="square" fill="none"/>
<rect x="230.18" y="156.88" width="6.25" height="6.25" fill="none" stroke="#000000" stroke-width="1.39" stroke-linejoin="miter"/>
<text x="254.68" y="163.80" transform="rotate(0.04 254.68 163.80)" font-size="12.500" letter-spacing="-0.177">KSDFT</text>
<path d="M220.8 177.8H245.45" stroke="#8B4513" stroke-width="1.85" stroke-linecap="butt" fill="none" stroke-dasharray="6.0 2.1"/>
<path d="M233.3 173.38L235.95 177.8L233.3 182.22L230.65 177.8Z" fill="none" stroke="#8B4513" stroke-width="1.39" stroke-linejoin="miter"/>
<text x="255.21" y="181.75" transform="rotate(0.04 255.21 181.75)" font-size="12.500" letter-spacing="-0.229">OFDFT-TF</text>
<path d="M220.8 195.6H245.45" stroke="#008000" stroke-width="1.85" stroke-linecap="butt" fill="none" stroke-dasharray="6.0 2.1"/>
<path d="M233.3 192.47L236.43 198.72L230.18 198.72Z" fill="none" stroke="#008000" stroke-width="1.39" stroke-linejoin="miter"/>
<text x="255.21" y="199.70" transform="rotate(0.04 255.21 199.70)" font-size="12.500" letter-spacing="-0.204">OFDFT-LKTF</text>
<path d="M220.8 213.4H245.45" stroke="#800080" stroke-width="1.85" stroke-linecap="butt" fill="none" stroke-dasharray="6.0 2.1"/>
<circle cx="233.3" cy="213.4" r="3.12" fill="none" stroke="#800080" stroke-width="1.39" stroke-linejoin="miter"/>
<text x="255.21" y="217.65" transform="rotate(0.04 255.21 217.65)" font-size="12.500" letter-spacing="-0.211">OFDFT-XWMF</text>
<path d="M220.8 231.2H245.45" stroke="#ff0000" stroke-width="1.85" stroke-linecap="butt" fill="none" stroke-dasharray="6.0 2.1"/>
<path d="M236.43 231.2L234.86 228.49L231.74 228.49L230.18 231.2L231.74 233.91L234.86 233.91Z" fill="none" stroke="#ff0000" stroke-width="1.39" stroke-linejoin="miter"/>
<text x="255.21" y="235.60" transform="rotate(0.04 255.21 235.60)" font-size="12.500" letter-spacing="-0.222">OFDFT-SKANEX</text>
</g>
</svg>
</body></html>
